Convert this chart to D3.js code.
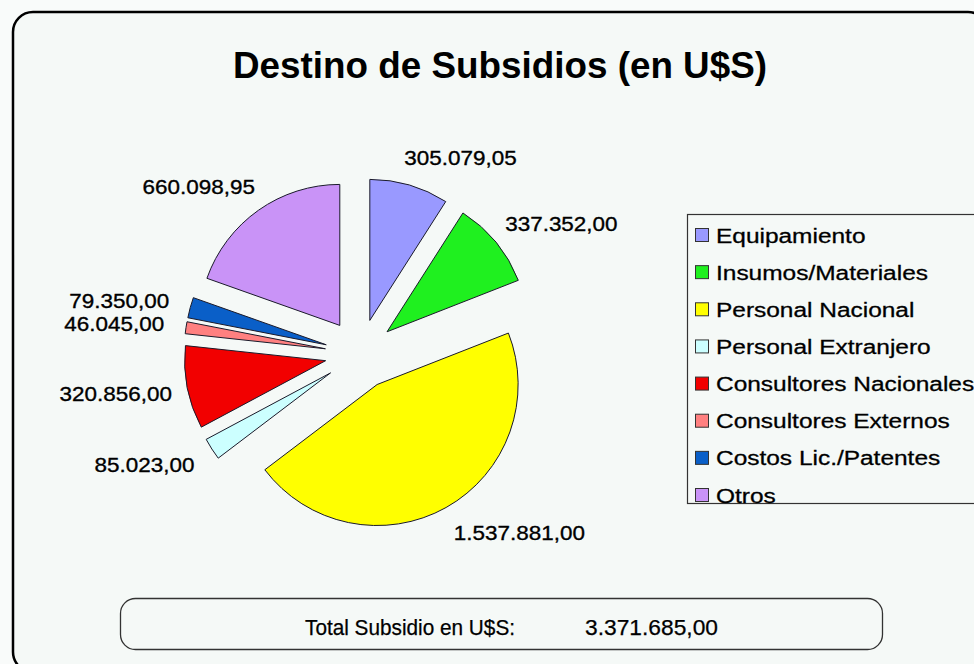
<!DOCTYPE html>
<html>
<head>
<meta charset="utf-8">
<script src="https://cdn.jsdelivr.net/npm/d3@7"></script>
<style>
  html, body { margin: 0; padding: 0; background: #f7faf8; }
  svg { display: block; font-family: "Liberation Sans", Arial, sans-serif; }
</style>
</head>
<body>
<svg id="chart" width="974" height="664"></svg>
<script>
const categories = ["Equipamiento", "Insumos/Materiales", "Personal Nacional", "Personal Extranjero",
  "Consultores Nacionales", "Consultores Externos", "Costos Lic./Patentes", "Otros"];
const values = [305079.05, 337352.00, 1537881.00, 85023.00, 320856.00, 46045.00, 79350.00, 660098.95];
const valueLabels = ["305.079,05", "337.352,00", "1.537.881,00", "85.023,00", "320.856,00", "46.045,00", "79.350,00", "660.098,95"];
const colors = ["#9999ff", "#1ff01f", "#ffff00", "#ccffff", "#f20000", "#ff8080", "#0a5fc8", "#c993f7"];
const titleText = "Destino de Subsidios (en U$S)";
const totalLabel = "Total Subsidio en U$S:";
const totalValue = "3.371.685,00";

const svg = d3.select("#chart");

// background + outer frame
svg.append("rect").attr("x", 0).attr("y", 0).attr("width", 974).attr("height", 664).attr("fill", "#f9fbfa");
svg.append("rect").attr("x", 13).attr("y", 12).attr("width", 975).attr("height", 660)
  .attr("rx", 20).attr("ry", 20)
  .attr("fill", "#f5f9f7").attr("stroke", "#000").attr("stroke-width", 2.5);

// title
svg.append("text").attr("x", 500).attr("y", 78).attr("text-anchor", "middle")
  .attr("font-size", 36).attr("font-weight", "bold").attr("fill", "#000")
  .attr("textLength", 534).attr("lengthAdjust", "spacingAndGlyphs")
  .text(titleText);

// pie
const cx = 360, cy = 354, r = 141, explode = 35, labelR = 205;
const pie = d3.pie().sort(null).value(d => d).startAngle(0).endAngle(2 * Math.PI);
const arcs = pie(values);
const arcGen = d3.arc().innerRadius(0).outerRadius(r);

const g = svg.append("g").attr("transform", `translate(${cx},${cy})`);
g.selectAll("path.slice").data(arcs).enter().append("path")
  .attr("class", "slice")
  .attr("d", arcGen)
  .attr("fill", (d, i) => colors[i])
  .attr("stroke", "#1a1a2a").attr("stroke-width", 1)
  .attr("stroke-linejoin", "miter")
  .attr("transform", d => {
    const a = (d.startAngle + d.endAngle) / 2;
    return `translate(${explode * Math.sin(a)},${-explode * Math.cos(a)})`;
  });

// value labels
g.selectAll("text.val").data(arcs).enter().append("text")
  .attr("class", "val")
  .attr("text-anchor", "middle")
  .attr("font-size", 21)
  .attr("fill", "#000").attr("stroke", "#000").attr("stroke-width", 0.35)
  .attr("transform", d => {
    const a = (d.startAngle + d.endAngle) / 2;
    const s = Math.sin(a), c = Math.cos(a);
    const x = labelR * s + (s >= 0 ? 43 : -43) + (c < 0 && s > 0 ? 16 : 0);
    const y = -labelR * c;
    return `translate(${x},${y}) scale(1.07,1)`;
  })
  .attr("dy", "0.36em")
  .text((d, i) => valueLabels[i]);

// legend
const lg = svg.append("g");
lg.append("rect").attr("x", 687.5).attr("y", 214.5).attr("width", 320).attr("height", 289)
  .attr("fill", "#f5f9f7").attr("stroke", "#333").attr("stroke-width", 1.2);
const rowY = d3.scalePoint().domain(categories).range([235, 495]);
categories.forEach((c, i) => {
  const y = rowY(c);
  lg.append("rect").attr("x", 695.5).attr("y", y - 6.5).attr("width", 13).attr("height", 13)
    .attr("fill", colors[i]).attr("stroke", "#333").attr("stroke-width", 1);
  lg.append("text").attr("font-size", 21).attr("fill", "#000")
    .attr("stroke", "#000").attr("stroke-width", 0.3)
    .attr("transform", `translate(716,${y}) scale(1.165,1)`)
    .attr("dy", "0.36em").text(c);
});

// total box
svg.append("rect").attr("x", 120.5).attr("y", 598.5).attr("width", 762).attr("height", 51)
  .attr("rx", 15).attr("ry", 15)
  .attr("fill", "#f5f9f7").attr("stroke", "#333").attr("stroke-width", 1.3);
svg.append("text").attr("x", 305).attr("y", 635).attr("font-size", 22).attr("fill", "#000")
  .attr("stroke", "#000").attr("stroke-width", 0.25)
  .attr("textLength", 210).attr("lengthAdjust", "spacingAndGlyphs").text(totalLabel);
svg.append("text").attr("x", 585).attr("y", 635).attr("font-size", 22).attr("fill", "#000")
  .attr("stroke", "#000").attr("stroke-width", 0.25)
  .attr("textLength", 133).attr("lengthAdjust", "spacingAndGlyphs").text(totalValue);
</script>
</body>
</html>
